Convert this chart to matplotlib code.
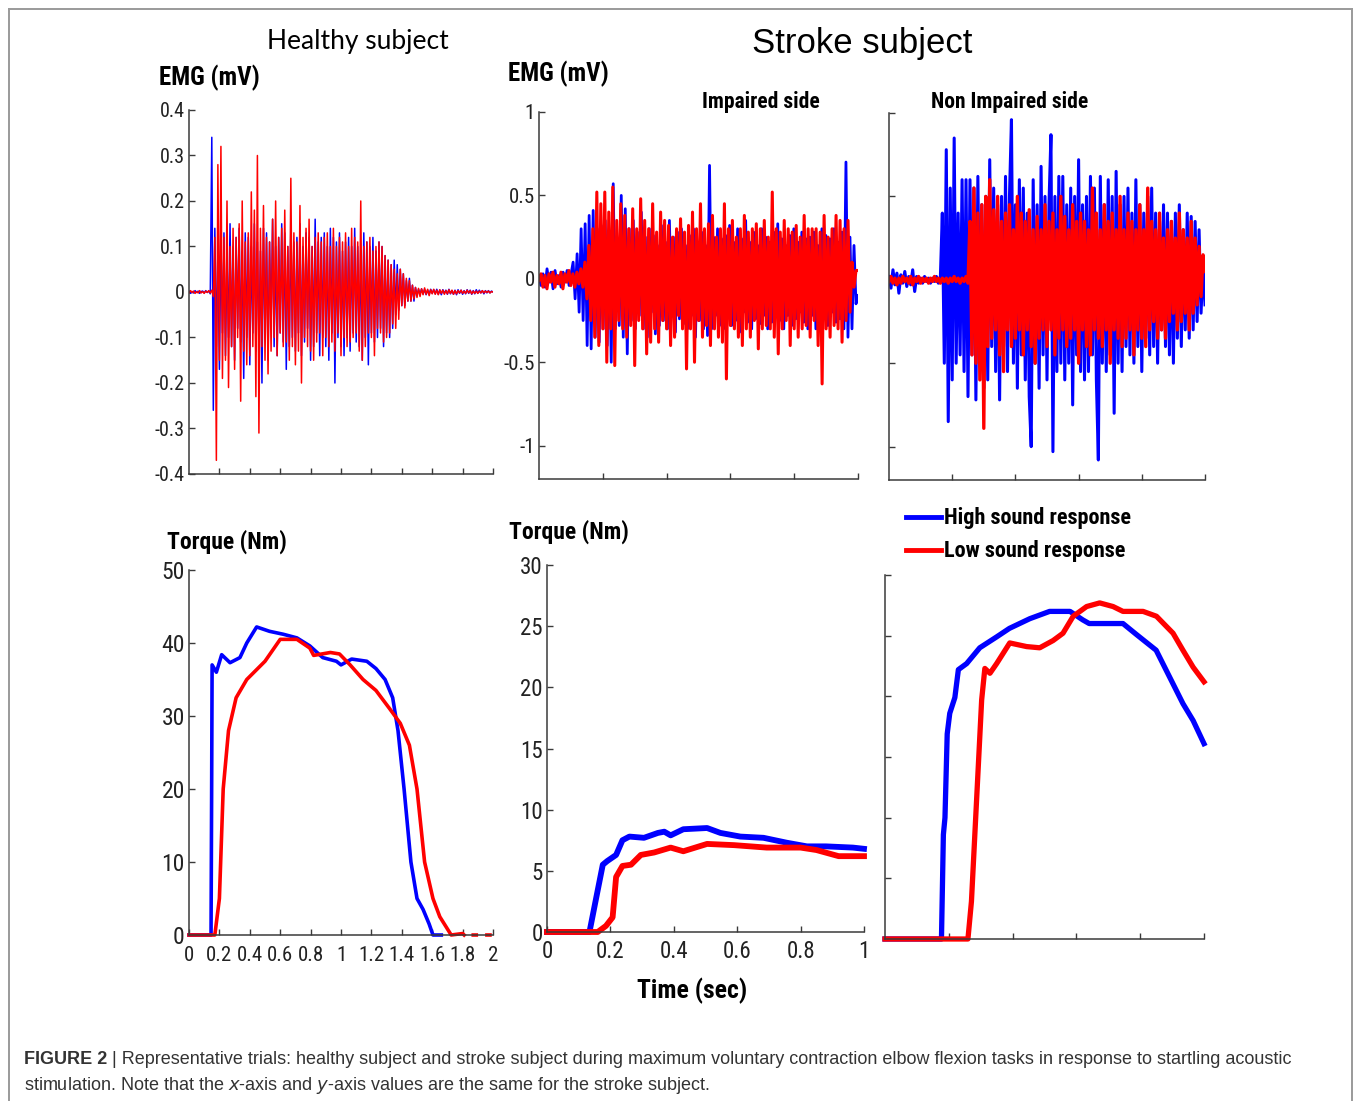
import os
import numpy as np
import matplotlib
matplotlib.use("Agg")
import matplotlib.pyplot as plt
import matplotlib.font_manager as fm
from matplotlib.font_manager import FontProperties
from matplotlib.lines import Line2D

W, H = 1358, 1101

# ---------------- data ----------------
# healthy subject EMG, 0..2 s
emg_h_blue = [0.002, -0.003, 0.001, -0.002, 0.003, -0.001, 0.002, -0.003, 0.001, 0.002, -0.002, 0.003, -0.001, 0.002, -0.004,
              0.34, -0.26, 0.14, -0.12, 0.09, -0.17, 0.11, -0.09, 0.13, -0.14, 0.08, -0.1, 0.15, -0.12, 0.1,
              -0.15, 0.12, -0.08, 0.14, -0.11, 0.09, -0.19, 0.13, -0.1, 0.12, -0.16, 0.1, -0.09, 0.15, -0.13, 0.11, -0.12, 0.09, -0.2, 0.14,
              -0.1, 0.13, -0.15, 0.11, -0.08, 0.16, -0.12, 0.1, -0.14, 0.12, -0.09, 0.15, -0.11, 0.13, -0.17, 0.1, -0.12, 0.14, -0.1, 0.11,
              -0.13, 0.12, -0.09, 0.15, -0.14, 0.1, -0.11, 0.13, -0.08, 0.12, -0.15, 0.1, -0.12, 0.16, -0.09, 0.11, -0.14, 0.12, -0.1, 0.13,
              -0.12, 0.1, -0.15, 0.14, -0.09, 0.12, -0.2, 0.11, -0.1, 0.13, -0.12, 0.09, -0.14, 0.11, -0.1, 0.12, -0.13, 0.1, -0.09, 0.14,
              -0.11, 0.1, -0.12, 0.09, -0.15, 0.13, -0.1, 0.11, -0.16, 0.1, -0.09, 0.12, -0.11, 0.09, -0.1, 0.11, -0.08, 0.1, -0.12, 0.08,
              -0.09, 0.07, -0.1, 0.06, -0.08, 0.07, -0.05, 0.06, -0.04, 0.05, -0.03, 0.04, -0.03, 0.025, -0.02, 0.03, -0.02, 0.015, -0.02, 0.01,
              -0.008, 0.006, -0.005, 0.007, -0.004, 0.005, -0.006, 0.004, -0.005, 0.006, -0.003, 0.005, -0.004, 0.006, -0.005, 0.004, -0.006,
              0.005, -0.003, 0.004, -0.005, 0.006, -0.004, 0.003, -0.005, 0.004, -0.006, 0.005, -0.003, 0.004, -0.005, 0.003, -0.004, 0.005,
              -0.003, 0.004, -0.005, 0.003, -0.004, 0.005, -0.003, 0.004, -0.002, 0.003, -0.004, 0.003, -0.002, 0.003, -0.002, 0.002, 0.0]
emg_h_red = [-0.002, 0.003, -0.001, 0.002, -0.003, 0.001, -0.002, 0.003, -0.002, 0.001, -0.003, 0.002, -0.001, 0.003, -0.002, 0.004, -0.01,
             0.12, -0.37, 0.28, -0.15, 0.32, -0.19, 0.12, -0.15, 0.2, -0.21, 0.1, -0.12, 0.14,
             -0.17, 0.12, -0.1, 0.15, -0.24, 0.2, -0.13, 0.11, -0.16, 0.13, -0.14, 0.22, -0.12, 0.18, -0.23, 0.3, -0.31, 0.14, -0.12, 0.19,
             -0.15, 0.12, -0.18, 0.11, -0.13, 0.16, -0.1, 0.2, -0.14, 0.12, -0.09, 0.14, -0.12, 0.18, -0.11, 0.1, -0.15, 0.25, -0.12, 0.13,
             -0.16, 0.11, -0.13, 0.19, -0.2, 0.12, -0.1, 0.14, -0.12, 0.16, -0.13, 0.1, -0.15, 0.12, -0.11, 0.13, -0.09, 0.11, -0.14, 0.12,
             -0.1, 0.13, -0.12, 0.1, -0.11, 0.14, -0.13, 0.1, -0.09, 0.12, -0.14, 0.11, -0.1, 0.13, -0.12, 0.1, -0.11, 0.14, -0.1, 0.12,
             -0.09, 0.11, -0.13, 0.2, -0.15, 0.1, -0.12, 0.11, -0.09, 0.12, -0.1, 0.09, -0.14, 0.1, -0.08, 0.11, -0.09, 0.1, -0.11, 0.08,
             -0.1, 0.07, -0.09, 0.06, -0.07, 0.05, -0.08, 0.04, -0.06, 0.05, -0.03, 0.04, -0.035, 0.03, -0.02, 0.025, -0.02, 0.015, -0.015, 0.01,
             -0.012, 0.008, -0.01, 0.007, -0.006, 0.009, -0.005, 0.006, -0.008, 0.005, -0.004, 0.006, -0.005, 0.004, -0.006, 0.005, -0.003,
             0.004, -0.005, 0.003, -0.004, 0.005, -0.003, 0.004, -0.005, 0.003, -0.004, 0.003, -0.002, 0.004, -0.003, 0.002, -0.003, 0.004,
             -0.002, 0.003, -0.004, 0.002, -0.003, 0.002, -0.003, 0.002, -0.002, 0.003, -0.002, 0.002, -0.001, 0.002, -0.002, 0.001, 0.0]

# stroke subject EMG, impaired side, 0..1 s
emg_i_blue = [0.02, -0.04, 0.03, -0.05, 0.06, -0.02, 0.04, -0.06, 0.05, -0.03, 0.02, -0.05, 0.04, -0.02, 0.05, -0.04, 0.03, 0.1, -0.12, 0.15, -0.2,
              0.3, -0.25, 0.33, -0.4, 0.38, -0.42, 0.41, -0.35, 0.3, -0.38, 0.32, -0.3, 0.35, -0.4,
              0.25, -0.5, 0.57, -0.3, 0.22, -0.28, 0.5, -0.35, 0.42, -0.45, 0.3, -0.25, 0.35, -0.3, 0.28, -0.22, 0.4, -0.3, 0.25, -0.35,
              0.3, -0.2, 0.26, -0.33, 0.2, -0.28, 0.32, -0.25, 0.22, -0.3, 0.35, -0.2, 0.25, -0.32, 0.28, -0.24, 0.3, -0.27, 0.2, -0.3,
              0.26, -0.22, 0.3, -0.35, 0.22, -0.25, 0.28, -0.3, 0.2, -0.34, 0.68, -0.3, 0.25, -0.22, 0.3, -0.28, 0.24, -0.3, 0.26, -0.2,
              0.32, -0.28, 0.22, -0.25, 0.3, -0.32, 0.24, -0.2, 0.35, -0.26, 0.22, -0.3, 0.28, -0.24, 0.2, -0.27, 0.3, -0.22, 0.25, -0.3,
              0.22, -0.26, 0.28, -0.2, 0.33, -0.25, 0.24, -0.3, 0.2, -0.22, 0.26, -0.28, 0.3, -0.24, 0.22, -0.2, 0.28, -0.26, 0.24, -0.3,
              0.25, -0.22, 0.28, -0.3, 0.2, -0.25, 0.3, -0.22, 0.26, -0.28, 0.24, -0.2, 0.3, -0.26, 0.22, -0.24, 0.28, -0.3, 0.7, -0.35, 0.25, -0.3, 0.2, -0.15, -0.1]
emg_i_red = [-0.01, 0.03, -0.05, 0.02, -0.06, 0.03, -0.02, 0.04, -0.05, 0.02, -0.03, 0.04, -0.06, 0.03, -0.02, 0.05, -0.04, 0.03, -0.05, 0.04, -0.03, 0.06, -0.05,
             0.1, -0.12, 0.2, -0.25, 0.3, -0.35, 0.52, -0.4, 0.45, -0.3, 0.52, -0.5, 0.4,
             -0.3, 0.55, -0.52, 0.35, -0.25, 0.45, -0.3, 0.38, -0.35, 0.3, -0.28, 0.42, -0.52, 0.3, -0.25, 0.48, -0.3, 0.35, -0.45, 0.3,
             -0.38, 0.45, -0.3, 0.28, -0.38, 0.4, -0.25, 0.35, -0.3, 0.32, -0.4, 0.25, -0.35, 0.3, -0.22, 0.36, -0.3, 0.28, -0.54, 0.32,
             -0.3, 0.4, -0.5, 0.3, -0.25, 0.45, -0.35, 0.3, -0.28, 0.33, -0.4, 0.38, -0.3, 0.25, -0.35, 0.3, -0.38, 0.45, -0.6, 0.3,
             -0.28, 0.35, -0.3, 0.25, -0.35, 0.3, -0.4, 0.38, -0.3, 0.28, -0.35, 0.3, -0.25, 0.33, -0.42, 0.3, -0.3, 0.35, -0.28, 0.25,
             -0.3, 0.52, -0.35, 0.3, -0.45, 0.28, -0.3, 0.35, -0.25, 0.3, -0.4, 0.28, -0.3, 0.32, -0.35, 0.25, -0.3, 0.38, -0.28, 0.3,
             -0.35, 0.3, -0.25, 0.3, -0.4, 0.28, -0.63, 0.38, -0.3, 0.25, -0.35, 0.3, -0.28, 0.38, -0.3, 0.35, -0.38, 0.3, -0.25, 0.35, -0.2, 0.1, -0.05, 0.05, 0.05]

# stroke subject EMG, non impaired side, 0..1 s
emg_n_blue = [0.02, -0.05, 0.06, -0.03, 0.04, -0.08, 0.03, -0.02, 0.05, -0.04, 0.02, -0.03, 0.06, -0.07, 0.02, -0.02, 0.01, -0.02, 0.02, -0.01, 0.01, -0.02, 0.01, -0.01, 0.02, -0.02, 0.01,
              0.4, -0.5, 0.78, -0.85, 0.55, -0.6, 0.85, -0.5, 0.4, -0.45, 0.6, -0.55, 0.6, -0.7,
              0.6, -0.45, 0.55, -0.72, 0.62, -0.5, 0.45, -0.65, 0.5, -0.6, 0.72, -0.4, 0.55, -0.55, 0.45, -0.72, 0.5, -0.4, 0.62, -0.55,
              0.5, 0.96, -0.5, 0.45, -0.65, 0.6, -0.45, 0.55, -0.6, 0.4, -0.7, -1.0, 0.6, -0.5, 0.45, -0.65, 0.68, -0.45, 0.5, -0.6,
              0.45, 0.87, -1.03, 0.5, -0.55, 0.62, -0.5, 0.62, -0.6, 0.45, -0.5, 0.55, -0.75, 0.5, -0.45, 0.72, -0.55, 0.45, -0.6, 0.5,
              -0.55, 0.62, -0.45, 0.55, -0.6, -1.08, 0.62, -0.5, 0.45, -0.55, 0.6, -0.45, 0.5, -0.8, 0.65, -0.5, 0.45, -0.55, 0.5, -0.4,
              0.55, -0.45, 0.4, -0.5, 0.6, -0.4, 0.45, -0.55, 0.4, -0.35, 0.5, -0.45, 0.55, -0.4, 0.4, -0.5, 0.35, -0.3, 0.45, -0.4,
              0.4, -0.45, 0.35, -0.5, 0.4, -0.35, 0.45, -0.4, 0.3, -0.3, 0.4, -0.35, 0.38, -0.3, 0.35, -0.25, 0.3, -0.2, 0.1, -0.15]
emg_n_red = [-0.01, 0.02, -0.02, 0.01, -0.03, 0.01, -0.02, 0.02, -0.01, 0.01, -0.02, 0.02, -0.03, 0.01, -0.01, 0.02, -0.02, 0.01, -0.01, 0.01,
             -0.02, 0.01, -0.01, 0.02, -0.01, 0.01, -0.02, 0.01, -0.01, 0.01, -0.02, 0.01, -0.01, 0.02, -0.01, 0.01, -0.02, 0.01, -0.01, 0.02, -0.02,
             0.35, -0.45, 0.55, -0.5, 0.4, -0.6, 0.45, -0.89, 0.5, -0.4, 0.6, -0.35, 0.42, -0.3, 0.5, -0.45, 0.35, -0.55, 0.4, -0.3,
             0.45, -0.4, 0.3, -0.35, 0.5, -0.3, 0.4, -0.45, 0.35, -0.3, 0.42, -0.4, 0.3, -0.5, 0.38, -0.35, 0.3, -0.3, 0.45, -0.4,
             0.35, -0.3, 0.4, -0.45, 0.3, -0.35, 0.5, -0.3, 0.38, -0.4, 0.3, -0.35, 0.45, -0.3, 0.35, -0.5, 0.4, -0.3, 0.35, -0.4,
             0.3, -0.45, 0.55, -0.3, 0.4, -0.35, 0.3, -0.4, 0.45, -0.3, 0.35, -0.5, 0.4, -0.3, 0.3, -0.35, 0.5, -0.4, 0.3, -0.35,
             0.4, -0.3, 0.35, -0.45, 0.3, -0.3, 0.45, -0.35, 0.3, -0.4, 0.55, -0.3, 0.35, -0.25, 0.3, -0.35, 0.4, -0.3, 0.25, -0.35,
             0.3, -0.25, 0.35, -0.2, 0.25, -0.3, 0.4, -0.25, 0.3, -0.2, 0.25, -0.3, 0.35, -0.2, 0.25, -0.15, 0.2, -0.1, 0.15, 0.05]

# torque curves (time s, torque Nm)
tq_h_blue_t = [0, 0.145, 0.149, 0.152, 0.18, 0.215, 0.27, 0.335, 0.38, 0.445, 0.53, 0.62, 0.71, 0.795, 0.88, 0.97, 1.0, 1.07, 1.17,
               1.23, 1.29, 1.34, 1.375, 1.415, 1.46, 1.5, 1.54, 1.58, 1.605, 1.66]
tq_h_blue_v = [0, 0, 20, 37, 36, 38.4, 37.3, 38, 40, 42.2, 41.6, 41.2, 40.7, 39.6, 38, 37.5, 37, 37.8, 37.5,
               36.5, 35, 32.5, 28, 20, 10, 5, 3.5, 1.5, 0, 0]
tq_h_red_t = [0, 0.17, 0.2, 0.225, 0.26, 0.31, 0.38, 0.5, 0.6, 0.71, 0.795, 0.82, 0.93, 0.99, 1.06, 1.145, 1.23, 1.32, 1.39,
              1.45, 1.5, 1.55, 1.605, 1.65, 1.725, 1.8, 1.81, np.nan, 1.87, 1.89, np.nan, 1.96, 1.98]
tq_h_red_v = [0, 0, 5, 20, 28, 32.5, 35, 37.5, 40.5, 40.5, 39.3, 38.3, 38.7, 38.5, 37, 35, 33.5, 31, 29,
              26, 20, 10, 5, 2.5, 0, 0.2, 0, np.nan, 0, 0, np.nan, 0, 0]

tq_i_blue_t = [0, 0.134, 0.153, 0.176, 0.19, 0.218, 0.238, 0.26, 0.306, 0.35, 0.37, 0.39, 0.43, 0.505, 0.547, 0.61, 0.683,
               0.756, 0.82, 0.88, 0.965, 1.0]
tq_i_blue_v = [0, 0, 2.5, 5.5, 5.8, 6.3, 7.5, 7.8, 7.7, 8.1, 8.2, 7.9, 8.4, 8.5, 8.1, 7.8, 7.7, 7.3, 7.0, 7.0, 6.9, 6.8]
tq_i_red_t = [0, 0.16, 0.186, 0.207, 0.218, 0.238, 0.265, 0.296, 0.338, 0.39, 0.43, 0.505, 0.59, 0.693, 0.8, 0.85, 0.92, 1.0]
tq_i_red_v = [0, 0, 0.5, 1.2, 4.5, 5.4, 5.5, 6.3, 6.5, 6.9, 6.6, 7.2, 7.1, 6.9, 6.9, 6.7, 6.2, 6.2]

tq_n_blue_t = [0, 0.177, 0.183, 0.188, 0.195, 0.203, 0.219, 0.23, 0.256, 0.297, 0.35, 0.39, 0.454, 0.516, 0.58, 0.62, 0.64,
               0.746, 0.788, 0.85, 0.892, 0.934, 0.966, 1.0]
tq_n_blue_v = [0, 0, 8.6, 10, 16.9, 18.6, 19.9, 22.2, 22.7, 24.0, 24.9, 25.6, 26.4, 27.0, 27.0, 26.3, 26.0,
               26.0, 25.1, 23.8, 21.6, 19.4, 18.0, 16.1]
tq_n_red_t = [0, 0.26, 0.271, 0.287, 0.303, 0.313, 0.329, 0.35, 0.391, 0.444, 0.485, 0.527, 0.558, 0.59, 0.632, 0.673,
              0.715, 0.746, 0.809, 0.851, 0.903, 0.934, 0.966, 1.0]
tq_n_red_v = [0, 0, 3.1, 11.4, 19.7, 22.3, 21.9, 22.7, 24.4, 24.1, 24.0, 24.6, 25.2, 26.6, 27.4, 27.7,
              27.4, 27.0, 27.0, 26.6, 25.2, 23.8, 22.4, 21.2]

BLUE = '#0000ff'
RED = '#ff0000'
SPINE = '#3a3a3a'


# narrow / condensed sans for the MATLAB-like labels, if one is installed
def find_narrow(bold):
    prefs = ['liberationsansnarrow', 'arialn', 'arialnarrow', 'robotocondensed', 'dejavusanscondensed',
             'notosans-condensed', 'opensans-condensed', 'opensanscondensed', 'notosansdisplay-condensed']
    bad = ['italic', 'oblique', 'semi', 'extra', 'ultra', 'light', 'medium', 'black', 'thin']
    files = sorted(set(f.fname for f in fm.fontManager.ttflist))
    for p in prefs:
        for fn in files:
            b = os.path.basename(fn).lower().replace('_', '-')
            if not b.replace('-', '').startswith(p.replace('-', '')):
                continue
            if any(x in b for x in bad):
                continue
            if ('bold' in b) != bold:
                continue
            return fn
    return None


NARROW_REG = find_narrow(False)
NARROW_BOLD = find_narrow(True)


def fprop(bold, size):
    fn = NARROW_BOLD if bold else NARROW_REG
    if fn:
        return FontProperties(fname=fn, size=size)
    return FontProperties(family=['Liberation Sans', 'DejaVu Sans'],
                          weight='bold' if bold else 'normal', size=size * 0.86)


fig = plt.figure(figsize=(W / 100, H / 100), dpi=100)


def px_axes(x0, y0, x1, y1):
    return fig.add_axes([x0 / W, 1 - y1 / H, (x1 - x0) / W, (y1 - y0) / H])


def ftext(x, y, s, **kw):
    return fig.text(x / W, 1 - y / H, s, **kw)


def style(ax, xsize=None, ysize=None, xpad=4, ypad=3):
    for k in ['top', 'right']:
        ax.spines[k].set_visible(False)
    for k in ['left', 'bottom']:
        ax.spines[k].set_color(SPINE)
        ax.spines[k].set_linewidth(1.1)
    ax.tick_params(direction='in', length=4, width=1, color=SPINE, labelcolor='#222222')
    ax.tick_params(axis='x', pad=xpad, labelbottom=xsize is not None)
    ax.tick_params(axis='y', pad=ypad, labelleft=ysize is not None)
    if xsize:
        ax.set_xticklabels(['%g' % (round(v, 1) + 0.0) for v in ax.get_xticks()], fontproperties=fprop(False, xsize))
    if ysize:
        ax.set_yticklabels(['%g' % (round(v, 1) + 0.0) for v in ax.get_yticks()], fontproperties=fprop(False, ysize))


# ---------------- EMG row ----------------
ax1 = px_axes(189, 110, 493, 474)
ax1.plot(np.linspace(0, 2, len(emg_h_blue)), emg_h_blue, color=BLUE, lw=1.1)
ax1.plot(np.linspace(0, 2, len(emg_h_red)), emg_h_red, color=RED, lw=1.1)
ax1.set_xlim(0, 2)
ax1.set_ylim(-0.4, 0.4)
ax1.set_xticks(np.arange(0.2, 2.01, 0.2))
ax1.set_yticks(np.round(np.arange(-0.4, 0.41, 0.1), 1))
style(ax1, ysize=14.5)

ax2 = px_axes(539, 112, 858, 479)
ax2.plot(np.linspace(0, 1, len(emg_i_blue)), emg_i_blue, color=BLUE, lw=2.0)
ax2.plot(np.linspace(0, 1, len(emg_i_red)), emg_i_red, color=RED, lw=2.2)
ax2.set_xlim(0, 1)
ax2.set_ylim(-1.2, 1)
ax2.set_xticks(np.arange(0.2, 1.01, 0.2))
ax2.set_yticks([-1, -0.5, 0, 0.5, 1])
style(ax2, ysize=15)

ax3 = px_axes(889, 113, 1205, 480)
ax3.plot(np.linspace(0, 1, len(emg_n_blue)), emg_n_blue, color=BLUE, lw=2.2)
ax3.plot(np.linspace(0, 1, len(emg_n_red)), emg_n_red, color=RED, lw=2.4)
ax3.set_xlim(0, 1)
ax3.set_ylim(-1.2, 1)
ax3.set_xticks(np.arange(0.2, 1.01, 0.2))
ax3.set_yticks([-1, -0.5, 0, 0.5, 1])
style(ax3)

# ---------------- torque row ----------------
ax4 = px_axes(189, 570, 493, 935)
ax4.plot(tq_h_blue_t, tq_h_blue_v, color=BLUE, lw=2.6, clip_on=False)
ax4.plot(tq_h_red_t, tq_h_red_v, color=RED, lw=2.6, clip_on=False)
ax4.set_xlim(0, 2)
ax4.set_ylim(0, 50)
ax4.set_xticks(np.round(np.arange(0, 2.01, 0.2), 1))
ax4.set_yticks(np.arange(0, 51, 10))
style(ax4, xsize=15, ysize=17, xpad=8)

ax5 = px_axes(547, 565, 864, 932)
ax5.plot(tq_i_blue_t, tq_i_blue_v, color=BLUE, lw=4.2, clip_on=False)
ax5.plot(tq_i_red_t, tq_i_red_v, color=RED, lw=4.2, clip_on=False)
ax5.set_xlim(0, 1)
ax5.set_ylim(0, 30)
ax5.set_xticks(np.round(np.arange(0, 1.01, 0.2), 1))
ax5.set_yticks(np.arange(0, 31, 5))
style(ax5, xsize=16.5, ysize=16.5, xpad=6)

ax6 = px_axes(885, 575, 1204, 939)
ax6.plot(tq_n_blue_t, tq_n_blue_v, color=BLUE, lw=3.8, clip_on=False)
ax6.plot(tq_n_red_t, tq_n_red_v, color=RED, lw=3.8, clip_on=False)
ax6.set_xlim(0, 1)
ax6.set_ylim(0, 30)
ax6.set_xticks(np.arange(0.2, 1.01, 0.2))
ax6.set_yticks(np.arange(0, 31, 5))
style(ax6)

# ---------------- text ----------------
ftext(358, 42, 'Healthy subject', family=['Lato', 'DejaVu Sans'], fontsize=19, ha='center', va='center')
ftext(862, 44, 'Stroke subject', family=['Liberation Sans', 'DejaVu Sans'], fontsize=25, ha='center', va='center')
ftext(159, 78, 'EMG (mV)', fontproperties=fprop(True, 18), ha='left', va='center')
ftext(508, 74, 'EMG (mV)', fontproperties=fprop(True, 18), ha='left', va='center')
ftext(761, 102, 'Impaired side', fontproperties=fprop(True, 15.5), ha='center', va='center')
ftext(1010, 102, 'Non Impaired side', fontproperties=fprop(True, 15.5), ha='center', va='center')
ftext(167, 542, 'Torque (Nm)', fontproperties=fprop(True, 17), ha='left', va='center')
ftext(509, 532, 'Torque (Nm)', fontproperties=fprop(True, 17), ha='left', va='center')
ftext(692, 991, 'Time (sec)', fontproperties=fprop(True, 18.5), ha='center', va='center')

# legend
for yy, col, lab in [(517, BLUE, 'High sound response'), (550, RED, 'Low sound response')]:
    fig.add_artist(Line2D([906 / W, 941 / W], [1 - yy / H, 1 - yy / H], color=col, lw=3.5,
                          transform=fig.transFigure))
    ftext(944, yy + 1, lab, fontproperties=fprop(True, 16), ha='left', va='center')

# caption
cap_font = ['Liberation Sans', 'DejaVu Sans']
ftext(24, 1060, 'FIGURE 2', family=cap_font, fontweight='bold', fontsize=13, color='#333333', va='center')
ftext(112, 1060, '| Representative trials: healthy subject and stroke subject during maximum voluntary contraction '
      'elbow flexion tasks in response to startling acoustic', family=cap_font, fontsize=13, color='#333333', va='center')
ftext(24, 1085, 'stimulation. Note that the $\\it{x}$-axis and $\\it{y}$-axis values are the same for the stroke subject.',
      family=cap_font, fontsize=13, color='#333333', va='center')

# frame around the figure (open at the bottom)
for xs, ys in [([9, 9], [1101, 9]), ([9, 1352], [9, 9]), ([1352, 1352], [9, 1101])]:
    fig.add_artist(Line2D([x / W for x in xs], [1 - y / H for y in ys], color='#9a9a9a', lw=1.4,
                          transform=fig.transFigure))

fig.savefig('out.png', dpi=100)
